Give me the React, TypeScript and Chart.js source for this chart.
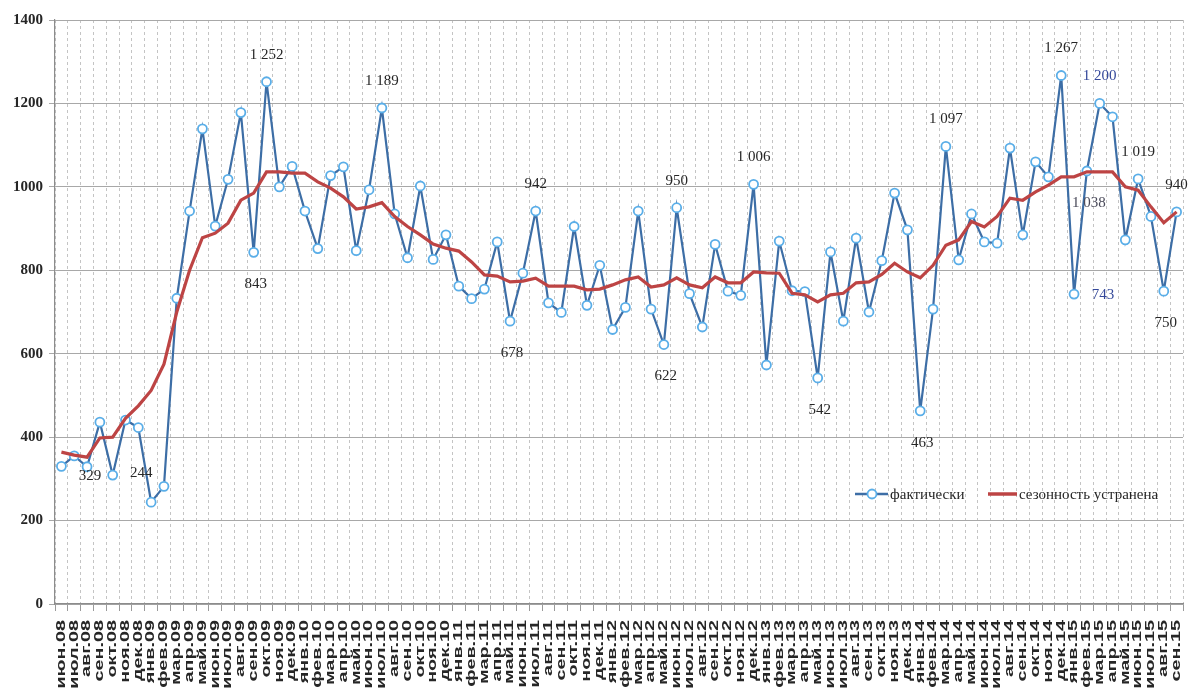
import { useEffect, useRef } from "react";
import { Chart, registerables } from "chart.js";

Chart.register(...registerables);

// ---- data ----
const months: string[] = [
  "июн.08", "июл.08", "авг.08", "сен.08", "окт.08", "ноя.08", "дек.08",
  "янв.09", "фев.09", "мар.09", "апр.09", "май.09", "июн.09", "июл.09", "авг.09", "сен.09", "окт.09", "ноя.09", "дек.09",
  "янв.10", "фев.10", "мар.10", "апр.10", "май.10", "июн.10", "июл.10", "авг.10", "сен.10", "окт.10", "ноя.10", "дек.10",
  "янв.11", "фев.11", "мар.11", "апр.11", "май.11", "июн.11", "июл.11", "авг.11", "сен.11", "окт.11", "ноя.11", "дек.11",
  "янв.12", "фев.12", "мар.12", "апр.12", "май.12", "июн.12", "июл.12", "авг.12", "сен.12", "окт.12", "ноя.12", "дек.12",
  "янв.13", "фев.13", "мар.13", "апр.13", "май.13", "июн.13", "июл.13", "авг.13", "сен.13", "окт.13", "ноя.13", "дек.13",
  "янв.14", "фев.14", "мар.14", "апр.14", "май.14", "июн.14", "июл.14", "авг.14", "сен.14", "окт.14", "ноя.14", "дек.14",
  "янв.15", "фев.15", "мар.15", "апр.15", "май.15", "июн.15", "июл.15", "авг.15", "сен.15",
];

const actual: number[] = [
  330, 355, 329, 436, 309, 441, 423,
  244, 282, 733, 942, 1139, 906, 1018, 1178, 843, 1252, 1000, 1049,
  942, 852, 1027, 1048, 847, 993, 1189, 935, 830, 1002, 826, 885,
  762, 732, 755, 868, 678, 793, 942, 722, 699, 905, 716, 812,
  658, 711, 942, 707, 622, 950, 744, 664, 862, 750, 740, 1006,
  573, 870, 751, 749, 542, 844, 678, 877, 700, 823, 985, 897,
  463, 707, 1097, 825, 935, 868, 865, 1093, 885, 1060, 1024, 1267,
  743, 1038, 1200, 1168, 873, 1019, 929, 750, 940,
];

const adjusted: number[] = [
  364, 357, 352, 398, 400, 445, 475,
  512, 575, 700, 800, 878, 889, 913, 968, 985, 1036, 1036, 1033,
  1033, 1012, 997, 976, 947, 952, 962, 929, 905, 885, 863, 853,
  846, 820, 789, 786, 772, 774, 781, 762, 762, 762, 753, 755,
  765, 777, 784, 760, 765, 782, 765, 758, 784, 770, 770, 796,
  794, 793, 745, 741, 724, 741, 745, 770, 772, 790, 817, 796,
  782, 812, 860, 873, 917, 904, 929, 973, 968, 988, 1004, 1024,
  1024, 1036, 1036, 1036, 1000, 992, 952, 914, 940,
];

const yTicks: number[] = [0, 200, 400, 600, 800, 1000, 1200, 1400];

const seriesNames: string[] = ["фактически", "сезонность устранена"];

// which points of the "actual" series carry a value label
const labelledIndex: number[] = [2, 7, 15, 16, 25, 35, 37, 47, 48, 54, 59, 67, 69, 78, 79, 80, 81, 84, 86, 87];

// ---- styling ----
const BLUE_LINE = "#3d6ea6";
const BLUE_MARK = "#5aaee8";
const RED_LINE = "#bd4444";
const TEXT = "#262626";

type Place = "above" | "below" | "right" | "upLeft" | "near";
const labelPlace: Record<number, Place> = {
  2: "near", 7: "upLeft", 15: "below", 16: "above", 25: "above", 35: "below", 37: "above",
  47: "below", 48: "above", 54: "above", 59: "below", 67: "below", 69: "above", 78: "above",
  79: "right", 80: "below", 81: "above", 84: "above", 86: "below", 87: "above",
};
const labelTone: Record<number, string> = { 79: "#34489a", 81: "#34489a", 80: "#4a4a5a" };
const placeOffset: Record<Place, [number, number]> = {
  above: [0, -27],
  below: [2, 32],
  right: [29, 1],
  upLeft: [-10, -29],
  near: [3, 9],
};

function fmt(n: number): string {
  if (n >= 1000) {
    const th = Math.floor(n / 1000);
    const rest = String(n % 1000).padStart(3, "0");
    return th + " " + rest;
  }
  return String(n);
}

const valueLabelsPlugin = {
  id: "valueLabels",
  afterDatasetsDraw(chart: any) {
    const meta = chart.getDatasetMeta(0);
    const ctx: CanvasRenderingContext2D = chart.ctx;
    ctx.save();
    ctx.font = '15px "Liberation Serif"';
    ctx.textAlign = "center";
    ctx.textBaseline = "middle";
    for (const i of labelledIndex) {
      const el = meta.data[i];
      if (!el) continue;
      const [dx, dy] = placeOffset[labelPlace[i] || "above"];
      ctx.fillStyle = labelTone[i] || TEXT;
      ctx.fillText(fmt(actual[i]), el.x + dx, el.y + dy);
    }
    ctx.restore();
  },
};

const monthLabelsPlugin = {
  id: "monthLabels",
  afterDraw(chart: any) {
    const xs = chart.scales.x;
    const ctx: CanvasRenderingContext2D = chart.ctx;
    ctx.save();
    ctx.font = 'bold 12px "Liberation Sans"';
    ctx.fillStyle = TEXT;
    ctx.textAlign = "right";
    ctx.textBaseline = "middle";
    months.forEach((m, i) => {
      const x = xs.getPixelForValue(i);
      ctx.save();
      ctx.translate(x, xs.top + 16);
      ctx.rotate(-Math.PI / 2);
      ctx.scale(1.65, 1);
      ctx.fillText(m, 0, 0);
      ctx.restore();
    });
    ctx.restore();
  },
};

const legendPlugin = {
  id: "insideLegend",
  afterDraw(chart: any) {
    const ctx: CanvasRenderingContext2D = chart.ctx;
    const { right, bottom } = chart.chartArea;
    const x0 = right - 328;
    const y = bottom - 110;
    ctx.save();
    // actual
    ctx.strokeStyle = BLUE_LINE;
    ctx.lineWidth = 2.5;
    ctx.beginPath();
    ctx.moveTo(x0, y);
    ctx.lineTo(x0 + 33, y);
    ctx.stroke();
    ctx.beginPath();
    ctx.arc(x0 + 17, y, 4.5, 0, Math.PI * 2);
    ctx.fillStyle = "#ffffff";
    ctx.fill();
    ctx.strokeStyle = BLUE_MARK;
    ctx.lineWidth = 1.8;
    ctx.stroke();
    ctx.font = '15px "Liberation Serif"';
    ctx.fillStyle = TEXT;
    ctx.textAlign = "left";
    ctx.textBaseline = "middle";
    ctx.fillText(seriesNames[0], x0 + 35, y + 1);
    // adjusted
    ctx.strokeStyle = RED_LINE;
    ctx.lineWidth = 3.5;
    ctx.beginPath();
    ctx.moveTo(x0 + 133, y);
    ctx.lineTo(x0 + 162, y);
    ctx.stroke();
    ctx.fillText(seriesNames[1], x0 + 164, y + 1);
    ctx.restore();
  },
};

export default function App() {
  const canvasRef = useRef<HTMLCanvasElement | null>(null);

  useEffect(() => {
    document.body.style.margin = "0";
    document.body.style.background = "#ffffff";
    const canvas = canvasRef.current;
    if (!canvas) return;
    const chart = new Chart(canvas, {
      type: "line",
      data: {
        labels: months,
        datasets: [
          {
            label: seriesNames[0],
            data: actual,
            borderColor: BLUE_LINE,
            borderWidth: 2.2,
            pointRadius: 4.5,
            pointBorderWidth: 1.8,
            pointBorderColor: BLUE_MARK,
            pointBackgroundColor: "#ffffff",
            tension: 0,
            order: 2,
          },
          {
            label: seriesNames[1],
            data: adjusted,
            borderColor: RED_LINE,
            borderWidth: 3.2,
            pointRadius: 0,
            tension: 0,
            order: 1,
          },
        ],
      },
      options: {
        responsive: false,
        animation: false,
        events: [],
        layout: { padding: { top: 20, right: 12, left: 0, bottom: 0 } },
        plugins: {
          legend: { display: false },
          tooltip: { enabled: false },
        },
        scales: {
          x: {
            type: "category",
            offset: true,
            grid: {
              offset: true,
              color: "#c4c4c4",
              lineWidth: 1,
              drawTicks: true,
              tickLength: 7,
              tickColor: "#9a9a9a",
            },
            border: { display: true, color: "#8c8c8c", width: 1.2, dash: [3, 3] },
            ticks: { display: false, autoSkip: false },
            afterFit: (scale: any) => {
              scale.height = 89;
            },
          },
          y: {
            min: 0,
            max: 1400,
            afterBuildTicks: (scale: any) => {
              scale.ticks = yTicks.map((v) => ({ value: v }));
            },
            grid: {
              color: "#a8a8a8",
              lineWidth: 1,
              drawTicks: true,
              tickLength: 6,
            },
            border: { display: true, color: "#8c8c8c", width: 1.2 },
            ticks: {
              color: TEXT,
              font: { family: '"Liberation Serif"', size: 15, weight: "bold" },
              padding: 6,
              callback: (v: any) => String(v),
            },
            afterFit: (scale: any) => {
              scale.width = 55;
            },
          },
        },
      },
      plugins: [valueLabelsPlugin, monthLabelsPlugin, legendPlugin],
    });
    return () => chart.destroy();
  }, []);

  return (
    <div style={{ width: 1195, height: 693, position: "relative", background: "#ffffff" }}>
      <canvas ref={canvasRef} width={1195} height={693} style={{ width: 1195, height: 693, display: "block" }} />
    </div>
  );
}
